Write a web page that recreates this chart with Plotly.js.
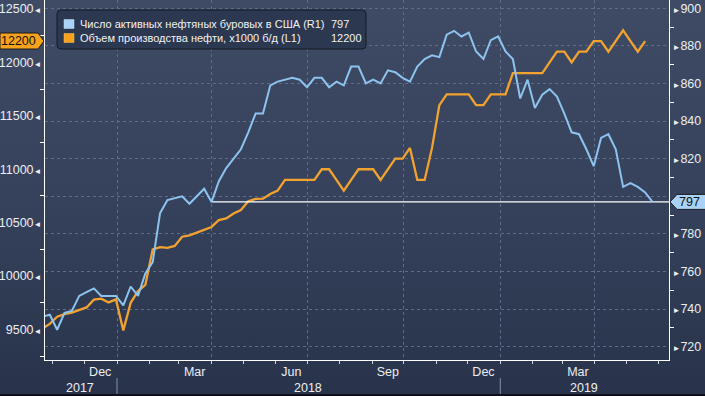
<!DOCTYPE html>
<html>
<head>
<meta charset="utf-8">
<script src="https://cdn.plot.ly/plotly-3.0.1.min.js"></script>
<style>
html,body{margin:0;padding:0;}
body{width:705px;height:396px;overflow:hidden;position:relative;
  background:linear-gradient(to bottom,#3f4b65 0%,#36425b 50%,#28334b 100%);}
#chart{width:705px;height:396px;}
#bottomBar{position:absolute;left:0;bottom:0;width:705px;height:2px;background:#0d1018;}
</style>
</head>
<body>
<div id="chart"></div>
<div id="bottomBar"></div>
<script>
// ---------- DATA ----------
// weekly observations (plotted week dates), first week:
const firstWeek = '2017-10-22';
// US active oil rigs (right axis, R1)
const rigCount = [
  736,
  737,729,738,739,747,749,751,747,747,747,
  742,752,747,759,
  765,791,798,799,
  800,796,800,804,797,
  808,815,820,825,
  834,844,844,859,
  861,862,863,862,858,
  863,863,858,861,
  859,869,869,860,862,
  860,867,866,863,
  861,869,873,875,
  874,886,888,885,887,
  877,873,883,885,
  877,873,852,862,
  847,854,857,853,
  844,834,833,825,816,
  831,833,825,805,
  807,805,802,797
];
// US crude output, x1000 b/d (left axis, L1)
const oilOutput = [
  9510,
  9553,9620,9645,9658,9682,9707,9780,9789,9754,9782,
  9492,9750,9860,9919,
  10250,10271,10265,10283,
  10369,10381,10407,10433,10460,
  10525,10540,10586,10619,
  10700,10723,10725,10769,
  10800,10900,10900,10900,10900,
  10900,11000,11000,10900,
  10800,10900,11000,11000,11000,
  10900,11000,11100,11100,
  11200,10900,10900,11200,
  11600,11700,11700,11700,11700,
  11600,11600,11700,11700,
  11700,11900,11900,11900,
  11900,11900,12000,12100,
  12100,12000,12100,12100,12200,
  12200,12100,12200,12300,
  12200,12100,12200
];
const seriesNames = ['Число активных нефтяных буровых в США (R1)',
                     'Объем производства нефти, x1000 б/д (L1)'];
const monthLabels = ['Dec','Mar','Jun','Sep','Dec','Mar'];
const monthLabelDates = ['2017-12-16','2018-03-16','2018-06-16','2018-09-16','2018-12-16','2019-03-16'];
const yearLabels = ['2017','2018','2019'];
const leftTicks = [9500,10000,10500,11000,11500,12000,12500];
const rightTicks = [720,740,760,780,800,820,840,860,880,900];

// ---------- helpers ----------
const xRange = ['2017-10-24 10:00','2019-06-10 17:00'];
const DAY = 864e5;
function weeklyDates(start, n){
  const t0 = Date.parse(start + 'T00:00:00Z'); const out = [];
  for (let i = 0; i < n; i++) out.push(new Date(t0 + i*7*DAY).toISOString().slice(0,10));
  return out;
}
function monthStarts(fromY, fromM, toY, toM, step){
  const out = []; let y = fromY, m = fromM;
  while (y < toY || (y === toY && m <= toM)) {
    out.push(y + '-' + String(m).padStart(2,'0') + '-01');
    m += step; while (m > 12) { m -= 12; y++; }
  }
  return out;
}
const rigDates = weeklyDates(firstWeek, rigCount.length);
const oilDates = weeklyDates(firstWeek, oilOutput.length);
const monthTicks = monthStarts(2017, 11, 2019, 6, 1);
const quarterTicks = monthStarts(2018, 1, 2019, 4, 3);
const yearStarts = ['2018-01-01','2019-01-01'];
const midDate = (a,b) => new Date((Date.parse(a)+Date.parse(b))/2).toISOString().slice(0,10);
const yearCenters = [midDate(xRange[0].slice(0,10), yearStarts[0]),
                     midDate(yearStarts[0], yearStarts[1]),
                     midDate(yearStarts[1], xRange[1].slice(0,10))];
const lastRig = rigCount[rigCount.length-1];
const lastOil = oilOutput[oilOutput.length-1];
let refIdx = 0;
for (let i = rigCount.length-2; i >= 0; i--) { if (rigCount[i] <= lastRig) { refIdx = i; break; } }

const BLUE = '#8dc3ef', ORANGE = '#f2a22f', GRID = '#5f6c86';
const AXFONT = '"Liberation Sans","Arimo",sans-serif';
const LGFONT = '"Liberation Sans","DejaVu Sans",sans-serif';
const AXSIZE = 12.5;
const LGSIZE = 11;

const traces = [
  // helper traces so the overlay axes (grid, month labels) are drawn
  {x:[xRange[0]], y:[null], type:'scatter', mode:'lines', xaxis:'x2', yaxis:'y', hoverinfo:'skip'},
  {x:[xRange[0]], y:[null], type:'scatter', mode:'lines', xaxis:'x3', yaxis:'y', hoverinfo:'skip'},
  {x: oilDates, y: oilOutput, type:'scatter', mode:'lines', xaxis:'x', yaxis:'y',
   line:{color:ORANGE, width:2.3}, hoverinfo:'skip'},
  {x: [rigDates[refIdx], xRange[1]], y: [lastRig, lastRig], type:'scatter', mode:'lines',
   xaxis:'x', yaxis:'y2', line:{color:'#ffffff', width:1.3}, hoverinfo:'skip'},
  {x: rigDates, y: rigCount, type:'scatter', mode:'lines', xaxis:'x', yaxis:'y2',
   line:{color:BLUE, width:2}, hoverinfo:'skip'}
];

const tri = s => '<span style="font-size:8px">' + s + '</span>';
const mid = arr => arr.slice(0,-1).map((v,i)=> (v+arr[i+1])/2);
// right labels hidden where the last-value tag sits
const rightText = rightTicks.map(v => Math.abs(v - lastRig) < 8 ? '' : tri('►') + v);

const layout = {
  width:705, height:396,
  margin:{l:45, r:36, t:0, b:36, pad:0},
  paper_bgcolor:'rgba(0,0,0,0)', plot_bgcolor:'rgba(0,0,0,0)',
  showlegend:false,
  font:{family:AXFONT, size:AXSIZE, color:'#eceef2'},
  xaxis:{type:'date', range:xRange, tickmode:'array', tickvals:monthTicks, ticks:'outside',
    ticklen:3, tickcolor:'#d0d4dc', tickwidth:1, showticklabels:false, showgrid:false,
    showline:true, linecolor:'#ffffff', linewidth:1, zeroline:false},
  xaxis2:{type:'date', range:xRange, overlaying:'x', anchor:'y', tickmode:'array',
    tickvals:quarterTicks, ticks:'', showticklabels:false, showgrid:true, gridcolor:GRID,
    griddash:'3px,3px', gridwidth:1, showline:false, zeroline:false},
  xaxis3:{type:'date', range:xRange, overlaying:'x', anchor:'y', tickmode:'array',
    tickvals:monthLabelDates, ticktext:monthLabels, ticks:'', showgrid:false, showline:false,
    zeroline:false, ticklabelstandoff:2, tickfont:{family:AXFONT, size:AXSIZE, color:'#eceef2'}},
  yaxis:{range:[9215,12584], tickmode:'array', tickvals:leftTicks,
    ticktext:leftTicks.map(v => v + tri('◄')), ticks:'', showgrid:false,
    showline:true, linecolor:'#ffffff', linewidth:1, zeroline:false,
    tickfont:{family:AXFONT, size:AXSIZE, color:'#eceef2'},
    minor:{tickmode:'array', tickvals:mid(leftTicks).concat([9250]), ticks:'outside', ticklen:4, tickcolor:'#ffffff'}},
  yaxis2:{range:[712.9,904.4], overlaying:'y', side:'right', anchor:'x', tickmode:'array',
    tickvals:rightTicks, ticktext:rightText, ticks:'',
    showgrid:true, gridcolor:GRID, griddash:'3px,3px', gridwidth:1,
    showline:true, linecolor:'#ffffff', linewidth:1, zeroline:false,
    tickfont:{family:AXFONT, size:AXSIZE, color:'#eceef2'},
    minor:{tickmode:'array', tickvals:mid(rightTicks).concat([890]), ticks:'outside', ticklen:4, tickcolor:'#ffffff'}},
  shapes:[
    ...yearStarts.map(d => ({type:'line', xref:'x', yref:'paper', x0:d, x1:d, y0:-0.05, y1:-0.095,
      line:{color:'#8591a6', width:1}})),
    {type:'path', xref:'paper', yref:'paper', xsizemode:'pixel', ysizemode:'pixel', xanchor:0, yanchor:1,
     path:'M 16,-10 L 317,-10 Q 321,-10 321,-14 L 321,-45 Q 321,-49 317,-49 L 16,-49 Q 12,-49 12,-45 L 12,-14 Q 12,-10 16,-10 Z',
     fillcolor:'#2c3750', line:{color:'#141a27', width:1}},
    {type:'rect', xref:'paper', yref:'paper', xsizemode:'pixel', ysizemode:'pixel', xanchor:0, yanchor:1,
     x0:19, x1:29, y0:-19.5, y1:-28.5, fillcolor:'#a9d3f6', line:{color:'#c6e2fa', width:0.5}},
    {type:'rect', xref:'paper', yref:'paper', xsizemode:'pixel', ysizemode:'pixel', xanchor:0, yanchor:1,
     x0:19, x1:29, y0:-33.5, y1:-42.5, fillcolor:'#f6a21c', line:{color:'#ffc060', width:0.5}},
    {type:'path', xref:'paper', yref:'y', xsizemode:'pixel', ysizemode:'pixel', xanchor:0, yanchor:lastOil,
     path:'M -45,8 L -7,8 L -1,0 L -7,-8 L -45,-8 Z', fillcolor:'#f7a21b', line:{color:'#1b1b1b', width:1}},
    {type:'path', xref:'paper', yref:'y2', xsizemode:'pixel', ysizemode:'pixel', xanchor:1, yanchor:lastRig,
     path:'M 1,0 L 8,7.5 L 40,7.5 L 40,-7.5 L 8,-7.5 Z', fillcolor:'#a9d3f6', line:{color:'#1b1b1b', width:1}}
  ],
  annotations:[
    ...yearLabels.map((t,i) => ({text:t, xref:'x', yref:'paper', x:yearCenters[i], y:-0.075,
      xanchor:'center', yanchor:'middle', yshift:-1, showarrow:false, font:{family:AXFONT, size:AXSIZE, color:'#eceef2'}})),
    {text:seriesNames[0], xref:'paper', yref:'paper', x:0, y:1, xanchor:'left', yanchor:'middle',
     xshift:33, yshift:-24, showarrow:false, font:{family:LGFONT, size:LGSIZE, color:'#f2f2f2'}},
    {text:seriesNames[1], xref:'paper', yref:'paper', x:0, y:1, xanchor:'left', yanchor:'middle',
     xshift:33, yshift:-38, showarrow:false, font:{family:LGFONT, size:LGSIZE, color:'#f2f2f2'}},
    {text:String(lastRig), xref:'paper', yref:'paper', x:0, y:1, xanchor:'left', yanchor:'middle',
     xshift:284, yshift:-24, showarrow:false, font:{family:LGFONT, size:LGSIZE, color:'#f2f2f2'}},
    {text:String(lastOil), xref:'paper', yref:'paper', x:0, y:1, xanchor:'left', yanchor:'middle',
     xshift:284, yshift:-38, showarrow:false, font:{family:LGFONT, size:LGSIZE, color:'#f2f2f2'}},
    {text:String(lastOil), xref:'paper', yref:'y', x:0, y:lastOil, xanchor:'right', yanchor:'middle',
     xshift:-7, showarrow:false, font:{family:AXFONT, size:AXSIZE, color:'#111111'}},
    {text:String(lastRig), xref:'paper', yref:'y2', x:1, y:lastRig, xanchor:'left', yanchor:'middle',
     xshift:8, showarrow:false, font:{family:AXFONT, size:AXSIZE, color:'#111111'}}
  ]
};

Plotly.newPlot('chart', traces, layout, {staticPlot:true, displayModeBar:false});
</script>
</body>
</html>
